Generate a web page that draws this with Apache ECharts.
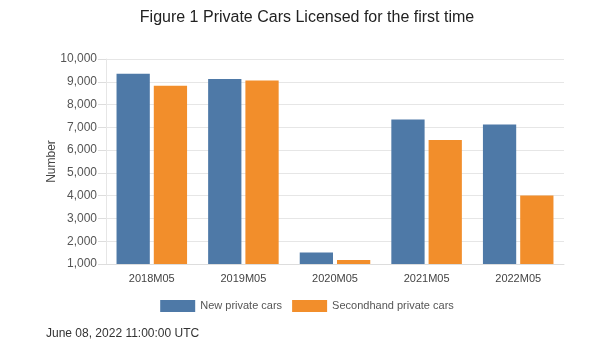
<!DOCTYPE html>
<html><head><meta charset="utf-8">
<script src="https://cdn.jsdelivr.net/npm/echarts@6/dist/echarts.min.js"></script>
<style>html,body{margin:0;padding:0;background:#fff}#c{width:614px;height:345px}</style>
</head><body><div id="c"></div>
<script>
const categories = ['2018M05','2019M05','2020M05','2021M05','2022M05'];
const newCars = [9350, 9120, 1500, 7340, 7120];
const secondhandCars = [8830, 9060, 1180, 6440, 4010];
const seriesNames = ['New private cars','Secondhand private cars'];
const font = '"Liberation Sans", Arial, sans-serif';
const chart = echarts.init(document.getElementById('c'));
chart.setOption({
  animation:false,
  title:[{text:'Figure 1 Private Cars Licensed for the first time',left:'center',top:5,
    textStyle:{fontFamily:font,fontSize:16,fontWeight:'normal',color:'#222'}},
    {text:'June 08, 2022 11:00:00 UTC',left:41,top:323,textStyle:{fontFamily:font,fontSize:12,fontWeight:'normal',color:'#333'}}],
  legend:{data:seriesNames,bottom:28,left:'center',itemWidth:35,itemHeight:12,itemGap:10,icon:'rect',
    textStyle:{fontFamily:font,fontSize:11,color:'#555'}},
  grid:{left:106,right:50,top:59,bottom:81},
  xAxis:{type:'category',data:categories,
    axisLine:{lineStyle:{color:'#ddd'}},axisTick:{show:false},
    axisLabel:{fontFamily:font,fontSize:11,color:'#444',margin:9}},
  yAxis:{type:'value',min:1000,max:10000,interval:1000,name:'Number',nameLocation:'middle',nameGap:48,
    nameMoveOverlap:false,
    nameTextStyle:{fontFamily:font,fontSize:12,color:'#444'},
    axisLine:{show:true,lineStyle:{color:'#e6e6e6'}},axisTick:{show:true,length:8,lineStyle:{color:'#ddd'}},
    axisLabel:{fontFamily:font,fontSize:12,color:'#555',margin:9,
      formatter:v=>v.toLocaleString('en-US')},
    splitLine:{lineStyle:{color:'#e6e6e6'}}},
  series:[
    {name:seriesNames[0],type:'bar',data:newCars,itemStyle:{color:'#4e79a7'},barGap:'12%',barCategoryGap:'23%'},
    {name:seriesNames[1],type:'bar',data:secondhandCars,itemStyle:{color:'#f28e2b'}}
  ]
});
</script></body></html>
